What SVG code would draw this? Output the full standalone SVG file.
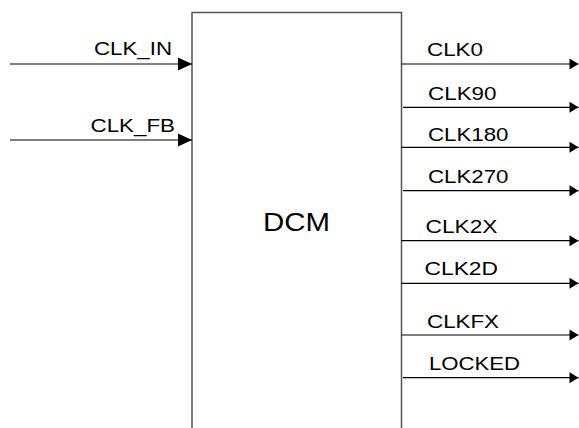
<svg xmlns="http://www.w3.org/2000/svg" width="579" height="428" viewBox="0 0 579 428">
<defs>
<style>
.lbl{font-family:"Liberation Sans",Arial,sans-serif;font-size:19px;fill:#000}
.big{font-family:"Liberation Sans",Arial,sans-serif;font-size:25px;fill:#000}
.wire{stroke:#000;stroke-width:1.2;fill:none}
.box{stroke:#555;stroke-width:1.5;fill:none}
</style>
<marker id="inArrow" markerUnits="userSpaceOnUse" markerWidth="14" markerHeight="13" refX="14" refY="6.5" orient="auto" overflow="visible">
<path d="M0,0 L14,6.5 L0,13 Z" fill="#000"/>
</marker>
<marker id="outArrow" markerUnits="userSpaceOnUse" markerWidth="9" markerHeight="12" refX="9" refY="6" orient="auto" overflow="visible">
<path d="M0,0.5 L9,6 L0,11.5 Z" fill="#000"/>
</marker>
</defs>
<rect width="579" height="428" fill="#fff"/>
<g id="dcm">
<path class="box" d="M192,429 V12.5 H401.5 V429"/>
<text class="big" x="263" y="231" textLength="67" lengthAdjust="spacingAndGlyphs">DCM</text>
</g>
<g id="connectors">
<g id="clk_in"><line class="wire" x1="10" y1="64" x2="192" y2="64" marker-end="url(#inArrow)"/><text class="lbl" x="94" y="55" textLength="78" lengthAdjust="spacingAndGlyphs">CLK_IN</text></g>
<g id="clk_fb"><line class="wire" x1="10" y1="140" x2="192" y2="140" marker-end="url(#inArrow)"/><text class="lbl" x="90.5" y="132" textLength="84.5" lengthAdjust="spacingAndGlyphs">CLK_FB</text></g>
<g id="clk0"><line class="wire" x1="401.5" y1="64" x2="578.5" y2="64" marker-end="url(#outArrow)"/><text class="lbl" x="427" y="56" textLength="56" lengthAdjust="spacingAndGlyphs">CLK0</text></g>
<g id="clk90"><line class="wire" x1="403" y1="107.3" x2="578.5" y2="107.3" marker-end="url(#outArrow)"/><text class="lbl" x="428" y="100" textLength="68.5" lengthAdjust="spacingAndGlyphs">CLK90</text></g>
<g id="clk180"><line class="wire" x1="401.5" y1="147.3" x2="578.5" y2="147.3" marker-end="url(#outArrow)"/><text class="lbl" x="428" y="141" textLength="80.5" lengthAdjust="spacingAndGlyphs">CLK180</text></g>
<g id="clk270"><line class="wire" x1="403" y1="190.7" x2="578.5" y2="190.7" marker-end="url(#outArrow)"/><text class="lbl" x="428" y="183.3" textLength="80.5" lengthAdjust="spacingAndGlyphs">CLK270</text></g>
<g id="clk2x"><line class="wire" x1="401.5" y1="240.7" x2="578.5" y2="240.7" marker-end="url(#outArrow)"/><text class="lbl" x="425.5" y="232.7" textLength="72" lengthAdjust="spacingAndGlyphs">CLK2X</text></g>
<g id="clk2d"><line class="wire" x1="401.5" y1="283.3" x2="578.5" y2="283.3" marker-end="url(#outArrow)"/><text class="lbl" x="424.5" y="275.3" textLength="73.5" lengthAdjust="spacingAndGlyphs">CLK2D</text></g>
<g id="clkfx"><line class="wire" x1="401.5" y1="335" x2="578.5" y2="335" marker-end="url(#outArrow)"/><text class="lbl" x="427" y="328.3" textLength="72" lengthAdjust="spacingAndGlyphs">CLKFX</text></g>
<g id="locked"><line class="wire" x1="403" y1="377.7" x2="578.5" y2="377.7" marker-end="url(#outArrow)"/><text class="lbl" x="429" y="370" textLength="91" lengthAdjust="spacingAndGlyphs">LOCKED</text></g>
</g>
</svg>
